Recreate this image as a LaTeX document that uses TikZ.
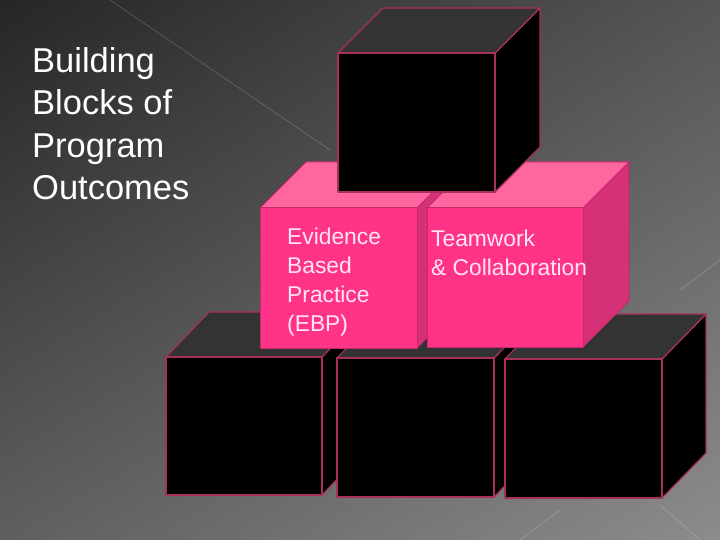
\documentclass[tikz,border=0pt]{standalone}
\usepackage{fontspec}
\setmainfont{Liberation Sans}
\usetikzlibrary{shadings}
\definecolor{bedge}{HTML}{A8305F}
\definecolor{pedge}{HTML}{C42A6A}
\definecolor{pfront}{HTML}{FF3388}
\definecolor{ptop}{HTML}{FF66A0}
\definecolor{pside}{HTML}{D63078}
\definecolor{btop}{HTML}{333333}
\definecolor{ptext}{HTML}{FFE6F2}
\definecolor{bgul}{HTML}{262626}
\definecolor{bgur}{HTML}{555555}
\definecolor{bgll}{HTML}{5F5F5F}
\definecolor{bglr}{HTML}{8C8C8C}
% #1 x0, #2 y0, #3 x1, #4 y1, #5 dx, #6 dy, #7 front, #8 top, #9 side
\newcommand{\mycube}[9]{%
  \filldraw[fill=#9] (#3,#2) -- (#3+#5,#2-#6) -- (#3+#5,#4-#6) -- (#3,#4) -- cycle;
  \filldraw[fill=#8] (#1,#2) -- (#1+#5,#2-#6) -- (#3+#5,#2-#6) -- (#3,#2) -- cycle;
  \filldraw[fill=#7] (#1,#2) rectangle (#3,#4);}
\begin{document}
\begin{tikzpicture}[x=1pt,y=-1pt,line join=round,
  bline/.style={draw=bedge,line width=1.2pt},
  pline/.style={draw=pedge,line width=1pt}]
\useasboundingbox (0,0) rectangle (720,540);
\shade[upper left=bgul,upper right=bgur,lower left=bgll,lower right=bglr]
  (0,0) rectangle (720,540);
\draw[white,opacity=0.25,line width=0.5pt] (110,0) -- (330,150);
\draw[white,opacity=0.25,line width=0.5pt] (720,260) -- (680,290);
\draw[white,opacity=0.25,line width=0.5pt] (560,510) -- (520,540);
\draw[white,opacity=0.25,line width=0.5pt] (660,505) -- (700,540);
\begin{scope}[bline]
\mycube{166}{357}{322}{495}{43}{45}{black}{btop}{black}
\mycube{337}{358}{494}{497}{44}{45}{black}{btop}{black}
\mycube{505}{359}{662}{498}{44}{45}{black}{btop}{black}
\end{scope}
\begin{scope}[pline]
\mycube{260}{208}{417}{348}{46}{46}{pfront}{ptop}{pside}
\mycube{427}{208}{583}{347}{46}{46}{pfront}{ptop}{pside}
\end{scope}
\begin{scope}[bline]
\mycube{338}{53}{495}{192}{45}{45}{black}{btop}{black}
\end{scope}
\node[anchor=north west,align=left,text=white,font=\fontsize{34.5}{42.5}\selectfont,inner sep=0pt] (title) at (32,47) {Building\\Blocks of\\Program\\Outcomes};
\node[anchor=north west,align=left,text=ptext,font=\fontsize{22.8}{29}\selectfont,inner sep=0pt] (ebp) at (287,228) {Evidence\\Based\\Practice\\(EBP)};
\node[anchor=north west,align=left,text=ptext,font=\fontsize{22.8}{29}\selectfont,inner sep=0pt] (team) at (431,230) {Teamwork\\\& Collaboration};
\end{tikzpicture}
\end{document}
